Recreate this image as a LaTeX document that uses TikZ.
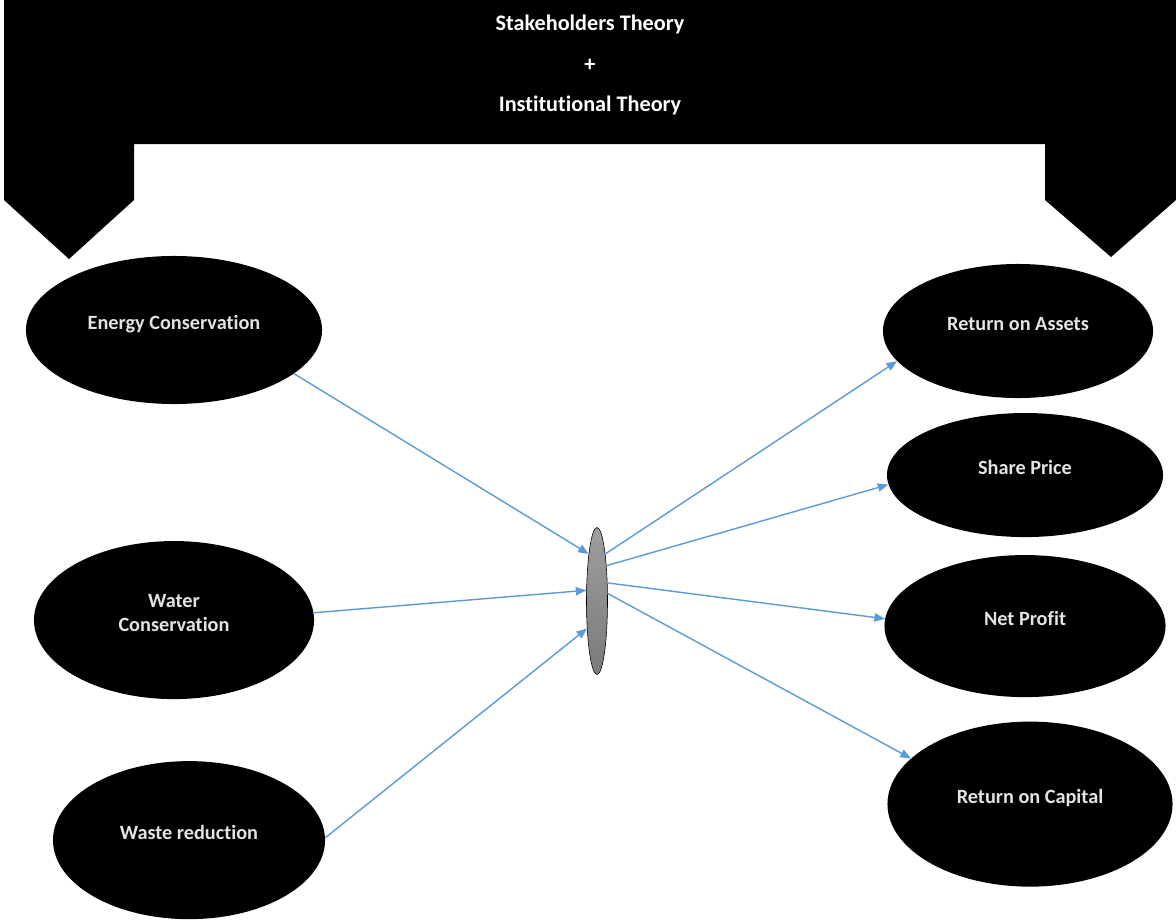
\documentclass[tikz,border=0pt]{standalone}
\usepackage{fontspec}
\setsansfont{Carlito}[Ligatures=NoCommon]
\usepackage{tikz}
\usetikzlibrary{positioning,arrows.meta,shapes.geometric}
\definecolor{link}{HTML}{5B9BD5}
\definecolor{label}{HTML}{E3E3E3}

\begin{document}
\begin{tikzpicture}[x=0.025cm,y=-0.025cm,font=\sffamily\bfseries]
    \tikzstyle{goal}=[ellipse, fill=black, text=label, inner sep=0pt, on grid,
        font=\sffamily\bfseries\fontsize{14.4}{17}\selectfont, align=center]
    \tikzstyle{lift}=[text height=8pt, text depth=9pt]
    \tikzstyle{flow}=[link, line width=1pt, -{Triangle[length=7.5pt,width=6pt]}]
    \useasboundingbox (0,0) rectangle (1176,920);
    % banner with the two arrows
    \fill[black] (4,0) -- (1176,0) -- (1176,200) -- (1111,257) -- (1045,200)
        -- (1045,144) -- (134,144) -- (134,200) -- (69,259) -- (4,200) -- cycle;
    \node[text=white, align=center, font=\sffamily\bfseries\fontsize{15.8}{29}\selectfont]
        (theory) at (590,65) {Stakeholders Theory\\+\\Institutional Theory};
    % left column
    \node[goal, lift, minimum width=7.4cm, minimum height=3.7cm] (energy) at (174,330) {Energy Conservation};
    \node[goal, text depth=10.5pt, minimum width=7cm, minimum height=3.95cm,
        below=7.25cm of energy] (water) {Water\\Conservation};
    \node[goal, lift, minimum width=6.8cm, minimum height=3.95cm, below=5.5cm of water,
        xshift=0.375cm] (waste) {Waste reduction};
    % mediator
    \node[ellipse, draw=black, thin, top color=black!38, bottom color=black!52,
        minimum width=0.525cm, minimum height=3.675cm, inner sep=0pt] (lens) at (597,601) {};
    % right column
    \node[goal, lift, minimum width=6.75cm, minimum height=3.35cm] (roa) at (1018,331) {Return on Assets};
    \node[goal, lift, minimum width=6.9cm, minimum height=3.1cm, below=3.6cm of roa,
        xshift=0.175cm] (share) {Share Price};
    \node[goal, lift, minimum width=7.025cm, minimum height=3.55cm, below=3.775cm of share] (net) {Net Profit};
    \node[goal, lift, minimum width=7.125cm, minimum height=4.125cm, below=4.45cm of net,
        xshift=0.125cm] (roc) {Return on Capital};
    \draw[flow] (energy.-20) -- (lens.100);
    \draw[flow] (water.3) -- (lens.135);
    \draw[flow] (waste.1) -- (lens.250);
    \draw[flow] (lens.80) -- (roa.194);
    \draw[flow] (lens.75) -- (share.184);
    \draw[flow] (lens.60) -- (net.177);
    \draw[flow] (lens.35) -- (roc.159);
\end{tikzpicture}
\end{document}
